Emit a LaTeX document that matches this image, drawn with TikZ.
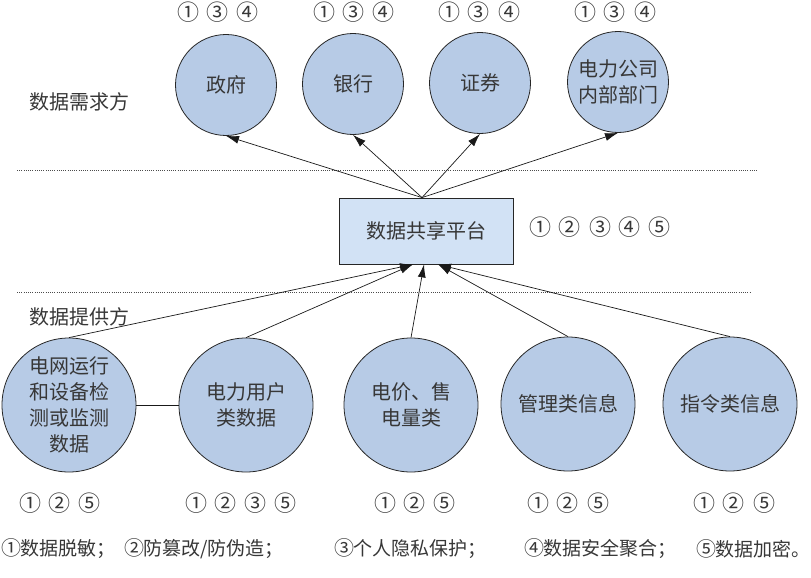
\documentclass[tikz,border=0pt]{standalone}
\usepackage{fontspec}
\setmainfont{Noto Sans CJK SC}
\usetikzlibrary{arrows.meta}
\definecolor{circfill}{RGB}{183,203,230}
\definecolor{boxfill}{RGB}{210,226,245}
\definecolor{txt}{RGB}{55,55,55}
\tikzset{
  circ/.style={circle, draw=black!85, line width=0.8pt, fill=circfill, inner sep=0pt,
    text=txt, align=center, font={\fontsize{20}{26}\selectfont}},
  bigc/.style={circ, minimum size=134pt},
  smallc/.style={circ, minimum size=101pt},
  platform/.style={draw=black!85, line width=0.8pt, fill=boxfill, minimum width=174pt,
    minimum height=66pt, inner sep=0pt, text=txt, font={\fontsize{20}{26}\selectfont}},
  arr/.style={-{Latex[length=13pt,width=8pt]}, line width=0.7pt, black!90},
  plainline/.style={line width=0.7pt, black!90},
  sepline/.style={line width=0.8pt, black!70, dash pattern=on 1pt off 1.2pt},
  lbl/.style={text=txt, inner sep=0pt, font={\fontsize{20}{26}\selectfont}},
  nums/.style={text=txt, inner sep=0pt, font={\fontsize{19}{24}\selectfont}},
  legend/.style={text=txt, inner sep=0pt, anchor=west, font={\fontsize{19}{24}\selectfont}}
}
\newcommand{\gp}{\hspace{10pt}}
\newcommand{\cn}[1]{\makebox[20pt]{\fontsize{22}{22}\selectfont #1}}
\newcommand{\cl}[1]{\makebox[18pt]{\fontsize{20}{20}\selectfont #1}}
\begin{document}
\begin{tikzpicture}[x=1pt,y=-1pt]
\useasboundingbox (0,0) rectangle (811,578);
% separators
\coordinate (s1a) at (17,170);
\coordinate (s1b) at (758,170);
\coordinate (s2a) at (17,292);
\coordinate (s2b) at (750,292);
\draw[sepline] (s1a) -- (s1b);
\draw[sepline] (s2a) -- (s2b);
% side labels
\node[lbl] (need) at (79,102) {数据需求方};
\node[lbl] (prov) at (79,317) {数据提供方};
% top circles
\node[smallc] (gov) at (226,85) {政府};
\node[smallc] (bank) at (353,84) {银行};
\node[smallc] (sec) at (480,83) {证券};
\node[smallc] (dept) at (618,82) {电力公司\\内部部门};
\node[nums] (ngov) at (218,12) {\cn{①}\gp\cn{③}\gp\cn{④}};
\node[nums] (nbank) at (354,12) {\cn{①}\gp\cn{③}\gp\cn{④}};
\node[nums] (nsec) at (479,12) {\cn{①}\gp\cn{③}\gp\cn{④}};
\node[nums] (ndept) at (615,12) {\cn{①}\gp\cn{③}\gp\cn{④}};
% platform
\node[platform] (box) at (426,231) {数据共享平台};
\node[nums] (nbox) at (600,227) {\cn{①}\gp\cn{②}\gp\cn{③}\gp\cn{④}\gp\cn{⑤}};
% bottom circles
\node[bigc] (b1) at (69,405) {电网运行\\和设备检\\测或监测\\数据};
\node[bigc] (b2) at (246,405) {电力用户\\类数据};
\node[bigc] (b3) at (411,405) {电价、售\\电量类};
\node[bigc] (b4) at (568,404) {管理类信息};
\node[bigc] (b5) at (730,404) {指令类信息};
\node[nums] (nb1) at (60,503) {\cn{①}\gp\cn{②}\gp\cn{⑤}};
\node[nums] (nb2) at (241,503) {\cn{①}\gp\cn{②}\gp\cn{③}\gp\cn{⑤}};
\node[nums] (nb3) at (415,503) {\cn{①}\gp\cn{②}\gp\cn{⑤}};
\node[nums] (nb4) at (568,503) {\cn{①}\gp\cn{②}\gp\cn{⑤}};
\node[nums] (nb5) at (734,503) {\cn{①}\gp\cn{②}\gp\cn{⑤}};
% connectors up
\draw[arr] ([xshift=-4pt]box.north) -- (gov.south);
\draw[arr] ([xshift=-4pt]box.north) -- (bank.south);
\draw[arr] ([xshift=-4pt]box.north) -- (sec.south);
\draw[arr] ([xshift=-4pt]box.north) -- (dept.south);
\draw[arr] (b1.north) -- ([xshift=-13pt]box.south);
\draw[arr] (b2.north) -- ([xshift=-13pt]box.south);
\draw[arr] (b3.north) -- ([xshift=-2pt]box.south);
\draw[arr] (b4.north) -- ([xshift=12pt]box.south);
\draw[arr] (b5.north) -- ([xshift=12pt]box.south);
\draw[plainline] (b1.east) -- (b2.west);
% legend
\node[legend] (l1) at (2,549) {\cl{①}数据脱敏；};
\node[legend] (l2) at (125,549) {\cl{②}防篡改/防伪造；};
\node[legend] (l3) at (335,549) {\cl{③}个人隐私保护；};
\node[legend] (l4) at (525,549) {\cl{④}数据安全聚合；};
\node[legend] (l5) at (697,549) {\cl{⑤}数据加密。};
\end{tikzpicture}
\end{document}
